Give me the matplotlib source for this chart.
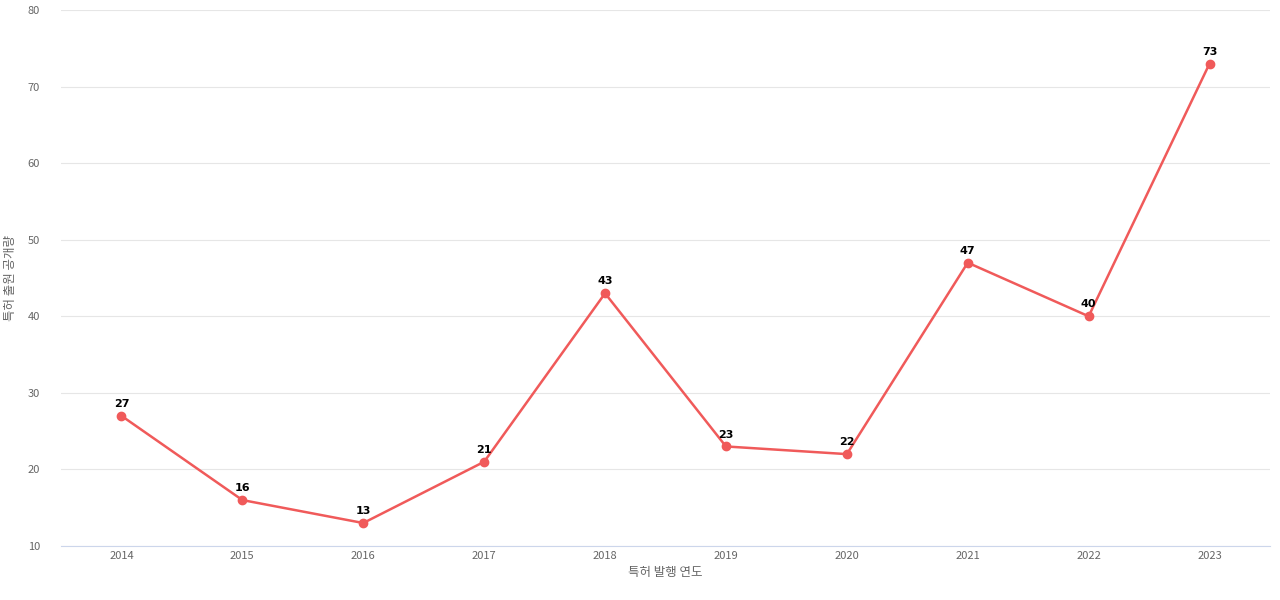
import matplotlib.pyplot as plt

plt.rcParams['font.family'] = ['Noto Sans CJK KR', 'DejaVu Sans']

years = ["2014", "2015", "2016", "2017", "2018", "2019", "2020", "2021", "2022", "2023"]
counts = [27, 16, 13, 21, 43, 23, 22, 47, 40, 73]

fig = plt.figure(figsize=(12.8, 6), dpi=100)
ax = fig.add_axes([61 / 1280, 54 / 600, 1209 / 1280, 536 / 600])

x = list(range(len(years)))
ax.plot(x, counts, color="#f05a5a", linewidth=1.8, marker="o", markersize=6, zorder=3)
for xi, v in zip(x, counts):
    ax.annotate(str(v), (xi, v), xytext=(0, 5), textcoords="offset points",
                ha="center", va="bottom", fontsize=8, fontweight="bold", color="black",
                family=["DejaVu Sans"])

ax.set_xlim(-0.5, len(years) - 0.5)
ax.set_ylim(10, 80)
ax.set_yticks(range(10, 81, 10))
ax.set_xticks(x)
ax.set_xticklabels(years)
ax.grid(axis="y", color="#e6e6e6", linewidth=0.8)
ax.set_axisbelow(True)
for s in ["top", "right", "left"]:
    ax.spines[s].set_visible(False)
ax.spines["bottom"].set_color("#ccd6eb")
ax.tick_params(length=0, labelsize=8, colors="#666666")
ax.tick_params(axis="y", pad=15)
ax.set_xlabel("특허 발행 연도", fontsize=9, color="#666666", labelpad=4)
ax.set_ylabel("특허 출원 공개량", fontsize=9, color="#666666", labelpad=8)

fig.savefig("out.png", dpi=100)
